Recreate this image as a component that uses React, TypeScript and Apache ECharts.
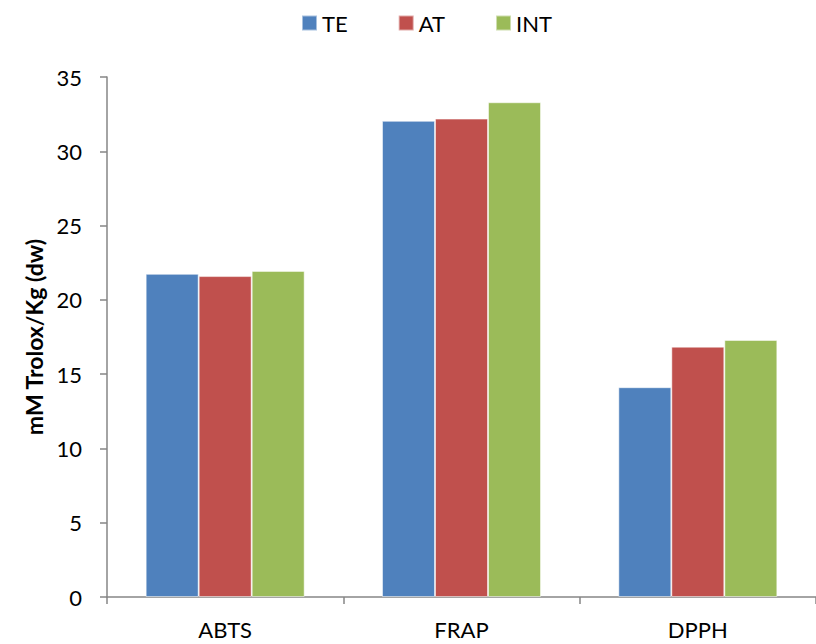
import React, { useEffect, useRef } from "react";
import * as echarts from "echarts";

const categories = ["ABTS", "FRAP", "DPPH"];
const seriesNames = ["TE", "AT", "INT"];
const teValues = [21.75, 32.05, 14.12];
const atValues = [21.6, 32.2, 16.85];
const intValues = [21.95, 33.3, 17.3];
const colors = ["#4F81BD", "#C0504D", "#9BBB59"];
const yTitle = "mM Trolox/Kg (dw)";

const FONT = "Lato, 'Open Sans', sans-serif";

export default function App() {
  const ref = useRef<HTMLDivElement>(null);
  useEffect(() => {
    document.body.style.margin = "0";
    if (!ref.current) return;
    const chart = echarts.init(ref.current, null, { renderer: "svg" });
    const values = [teValues, atValues, intValues];
    chart.setOption({
      animation: false,
      textStyle: { fontFamily: FONT },
      legend: {
        top: 7,
        left: 296,
        itemWidth: 15,
        itemHeight: 15,
        itemGap: 50,
        icon: "rect",
        textStyle: { fontFamily: FONT, fontSize: 22, color: "#000" },
        data: seriesNames,
      },
      grid: { left: 107, top: 77, width: 716, height: 520, containLabel: false },
      xAxis: {
        type: "category",
        data: categories,
        axisLine: { lineStyle: { color: "#868686", width: 1.5 } },
        axisTick: { show: true, length: 7, lineStyle: { color: "#868686", width: 1.5 } },
        axisLabel: { color: "#000", fontSize: 22, fontFamily: FONT, margin: 21 },
      },
      yAxis: {
        type: "value",
        min: 0,
        max: 35,
        interval: 5,
        name: yTitle,
        nameLocation: "middle",
        nameGap: 60,
        nameRotate: 90,
        nameTextStyle: { fontFamily: FONT, fontSize: 23, fontWeight: "bold", color: "#000" },
        axisLine: { show: true, lineStyle: { color: "#868686", width: 1.5 } },
        axisTick: { show: true, length: 7, lineStyle: { color: "#868686", width: 1.5 } },
        axisLabel: { color: "#000", fontSize: 22, fontFamily: FONT, margin: 25 },
        splitLine: { show: false },
      },
      series: seriesNames.map((name, i) => ({
        name,
        type: "bar",
        data: values[i],
        barWidth: 53,
        barGap: "0%",
        itemStyle: { color: colors[i], borderColor: "rgba(255,255,255,0.5)", borderWidth: 1 },
      })),
    });
    return () => chart.dispose();
  }, []);
  return <div ref={ref} style={{ width: 816, height: 644 }} />;
}
